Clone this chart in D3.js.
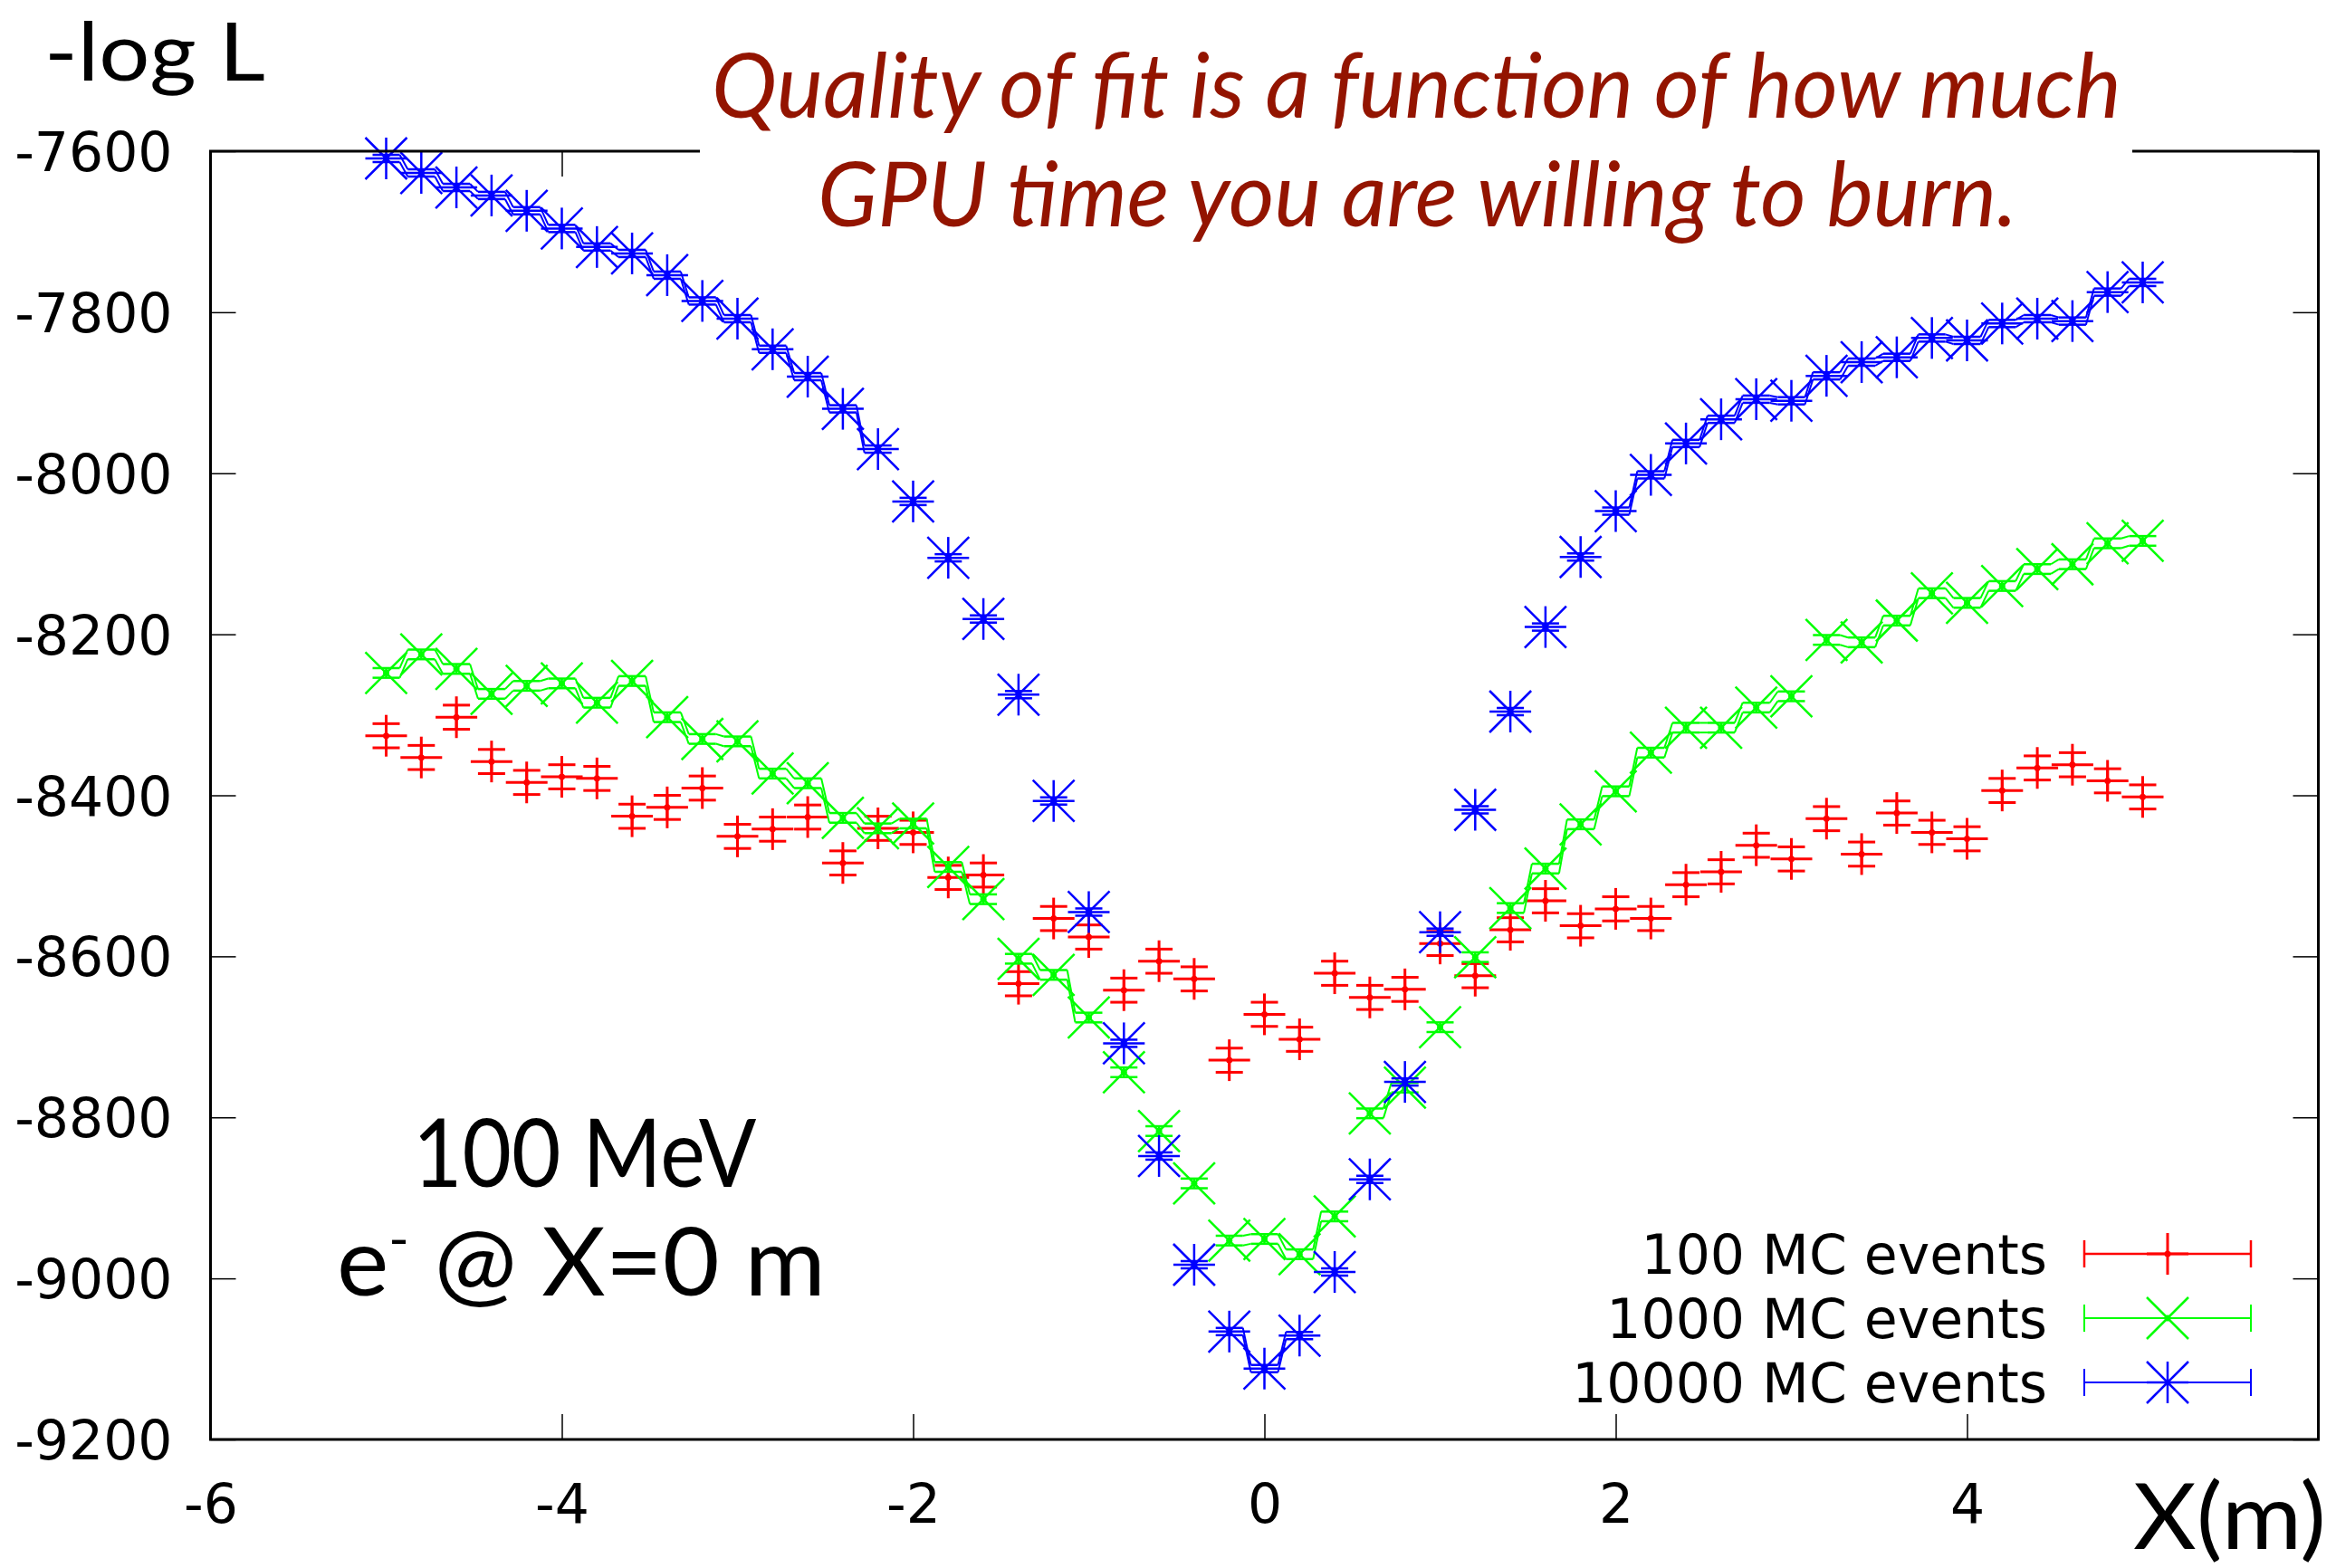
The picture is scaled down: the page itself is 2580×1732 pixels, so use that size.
<!DOCTYPE html>
<html>
<head>
<meta charset="utf-8">
<script src="https://cdn.jsdelivr.net/npm/d3@7"></script>
<style>
  body { margin: 0; background: #fff; }
  svg { display: block; }
  .axis text { font-family: "DejaVu Sans", sans-serif; font-size: 60px; fill: #000; }
  .axis line { stroke: #000; stroke-width: 1.5; }
  .legend text { font-family: "DejaVu Sans", sans-serif; font-size: 60px; fill: #000; }
  .label { font-family: Lato, "Open Sans", sans-serif; fill: #000; }
  .title { font-family: Lato, "Open Sans", sans-serif; font-style: italic; fill: #931400; }
</style>
</head>
<body>
<svg id="chart"></svg>
<script>
// scan positions (m)
const xValues = [
  -5.0, -4.8, -4.6, -4.4, -4.2, -4.0, -3.8, -3.6, -3.4, -3.2,
  -3.0, -2.8, -2.6, -2.4, -2.2, -2.0, -1.8, -1.6, -1.4, -1.2,
  -1.0, -0.8, -0.6, -0.4, -0.2, 0.0, 0.2, 0.4, 0.6, 0.8,
  1.0, 1.2, 1.4, 1.6, 1.8, 2.0, 2.2, 2.4, 2.6, 2.8,
  3.0, 3.2, 3.4, 3.6, 3.8, 4.0, 4.2, 4.4, 4.6, 4.8,
  5.0
];

// -log L for 100 MC events
const logL100 = [
  -8326, -8353, -8303, -8358, -8384, -8377, -8379, -8426, -8415, -8391,
  -8451, -8442, -8427, -8484, -8441, -8446, -8502, -8499, -8634, -8553,
  -8576, -8642, -8606, -8628, -8729, -8672, -8703, -8621, -8651, -8641,
  -8584, -8624, -8567, -8531, -8562, -8541, -8553, -8511, -8495, -8462,
  -8479, -8429, -8473, -8422, -8446, -8454, -8394, -8366, -8362, -8382,
  -8402
];

// -log L for 1000 MC events
const logL1000 = [
  -8248, -8225, -8243, -8274, -8264, -8261, -8285, -8258, -8303, -8330,
  -8333, -8373, -8385, -8428, -8441, -8435, -8489, -8529, -8603, -8623,
  -8676, -8744, -8817, -8882, -8953, -8951, -8970, -8923, -8795, -8763,
  -8688, -8601, -8540, -8491, -8436, -8395, -8347, -8316, -8316, -8291,
  -8277, -8207, -8210, -8183, -8149, -8161, -8140, -8119, -8113, -8087,
  -8084
];

// -log L for 10000 MC events
const logL10000 = [
  -7609, -7627, -7645, -7655, -7674, -7696, -7719, -7727, -7754, -7786,
  -7808, -7846, -7880, -7920, -7970, -8035, -8105, -8181, -8275, -8407,
  -8545, -8708, -8848, -8983, -9066, -9112, -9071, -8992, -8877, -8756,
  -8570, -8418, -8296, -8191, -8104, -8047, -8002, -7963, -7933, -7908,
  -7910, -7879, -7862, -7856, -7832, -7835, -7814, -7808, -7811, -7775,
  -7763
];

// statistical error on -log L per series
const seriesErrors = [15, 6, 4.5];
const seriesNames = ['100 MC events', '1000 MC events', '10000 MC events'];

const xTicks = [-6, -4, -2, 0, 2, 4];
const yTicks = [-7600, -7800, -8000, -8200, -8400, -8600, -8800, -9000, -9200];

const titleLines = ['Quality of fit is a function of how much', 'GPU time you are willing to burn.'];
const yLabel = '-log L';
const xLabel = 'X(m)';
const energyNote = '100 MeV';

class ScanPlot {

    constructor(_config, _data) {
        this.config = {
            parentElement: _config.parentElement,
            containerWidth: _config.containerWidth || 2580,
            containerHeight: _config.containerHeight || 1732,
            margin: _config.margin || {top: 167, right: 19.5, bottom: 142, left: 232.5},
            tickLength: 28,
            capHalf: 15,
            glyphHalf: 23,
            joinMaxStep: 50
        };
        this.data = _data;
        this.initVis();
    }

    initVis() {
        let vis = this;

        vis.width = vis.config.containerWidth - vis.config.margin.left - vis.config.margin.right;
        vis.height = vis.config.containerHeight - vis.config.margin.top - vis.config.margin.bottom;

        vis.xScale = d3.scaleLinear()
            .domain([-6, 6])
            .range([0, vis.width]);

        // y is -log L, top of the frame is the largest value
        vis.yScale = d3.scaleLinear()
            .domain([-7600, -9200])
            .range([0, vis.height]);

        vis.svg = d3.select(vis.config.parentElement)
            .attr('width', vis.config.containerWidth)
            .attr('height', vis.config.containerHeight);

        vis.svg.append('rect')
            .attr('width', vis.config.containerWidth)
            .attr('height', vis.config.containerHeight)
            .attr('fill', '#fff');

        vis.chart = vis.svg.append('g')
            .attr('transform', `translate(${vis.config.margin.left},${vis.config.margin.top})`);

        // ticks point inwards on all four sides, like gnuplot
        const tl = -vis.config.tickLength;
        vis.xAxis = d3.axisBottom(vis.xScale).tickValues(xTicks).tickSize(tl).tickPadding(49.5).tickFormat(d => String(d));
        vis.yAxis = d3.axisLeft(vis.yScale).tickValues(yTicks).tickSize(tl).tickPadding(42).tickFormat(d => String(d));
        vis.xAxisTop = d3.axisTop(vis.xScale).tickValues(xTicks).tickSize(tl).tickFormat('');
        vis.yAxisRight = d3.axisRight(vis.yScale).tickValues(yTicks).tickSize(tl).tickFormat('');

        vis.xAxisG = vis.chart.append('g').attr('class', 'axis x-axis')
            .attr('transform', `translate(0,${vis.height})`);
        vis.yAxisG = vis.chart.append('g').attr('class', 'axis y-axis');
        vis.xTopG = vis.chart.append('g').attr('class', 'axis');
        vis.yRightG = vis.chart.append('g').attr('class', 'axis')
            .attr('transform', `translate(${vis.width},0)`);

        vis.marks = vis.chart.append('g');
    }

    updateVis() {
        let vis = this;
        vis.renderVis();
    }

    glyph(g, shape) {
        const r = this.config.glyphHalf;
        if (shape === 'plus' || shape === 'star') {
            g.append('line').attr('x1', -r).attr('x2', r);
            g.append('line').attr('y1', -r).attr('y2', r);
        }
        if (shape === 'cross' || shape === 'star') {
            g.append('line').attr('x1', -r).attr('y1', -r).attr('x2', r).attr('y2', r);
            g.append('line').attr('x1', -r).attr('y1', r).attr('x2', r).attr('y2', -r);
        }
    }

    renderVis() {
        let vis = this;
        const cap = vis.config.capHalf;

        vis.xAxisG.call(vis.xAxis).call(g => g.select('.domain').remove());
        vis.yAxisG.call(vis.yAxis).call(g => g.select('.domain').remove());
        vis.xTopG.call(vis.xAxisTop).call(g => g.select('.domain').remove());
        vis.yRightG.call(vis.yAxisRight).call(g => g.select('.domain').remove());
        vis.yAxisG.selectAll('text').attr('dy', '0.36em');

        vis.data.forEach(s => {
            const pts = s.values.map((v, i) => ({x: xValues[i], v: v}));
            const sg = vis.marks.append('g')
                .attr('stroke', s.color)
                .attr('fill', 'none')
                .attr('stroke-width', s.lineWidth);

            // error lines joining the cap ends of neighbouring points;
            // steep jumps are left open as in the original plot
            if (s.joined) {
                const seg = d3.line();
                for (let i = 0; i < pts.length - 1; i++) {
                    const a = pts[i], b = pts[i + 1];
                    if (Math.abs(vis.yScale(b.v) - vis.yScale(a.v)) > vis.config.joinMaxStep) continue;
                    [1, -1].forEach(sign => {
                        sg.append('path').attr('d', seg([
                            [vis.xScale(a.x) + cap, vis.yScale(a.v + sign * s.err)],
                            [vis.xScale(b.x) - cap, vis.yScale(b.v + sign * s.err)]
                        ]));
                    });
                }
            }

            sg.selectAll('.pt')
                .data(pts)
                .join('g')
                .attr('class', 'pt')
                .attr('stroke-width', s.markWidth)
                .attr('transform', d => `translate(${vis.xScale(d.x)},${vis.yScale(d.v)})`)
                .each(function(d) {
                    const g = d3.select(this);
                    const dy = vis.yScale(d.v - s.err) - vis.yScale(d.v);
                    g.append('line').attr('y1', -dy).attr('y2', dy);
                    g.append('line').attr('x1', -cap).attr('x2', cap).attr('y1', -dy).attr('y2', -dy);
                    g.append('line').attr('x1', -cap).attr('x2', cap).attr('y1', dy).attr('y2', dy);
                    vis.glyph(g, s.shape);
                    g.append('circle').attr('r', 3.5).attr('fill', s.color).attr('stroke', 'none');
                });
        });

        // frame
        vis.chart.append('rect')
            .attr('width', vis.width)
            .attr('height', vis.height)
            .attr('fill', 'none')
            .attr('stroke', '#000')
            .attr('stroke-width', 3);

        // legend, bottom right inside the frame
        const legend = vis.svg.append('g').attr('class', 'legend');
        vis.data.forEach((s, i) => {
            const row = legend.append('g').attr('transform', `translate(0,${1385 + i * 71})`);
            row.append('text')
                .attr('x', 2261)
                .attr('dy', '0.36em')
                .attr('text-anchor', 'end')
                .text(s.name);
            const sample = row.append('g')
                .attr('stroke', s.color)
                .attr('stroke-width', s.lineWidth)
                .attr('fill', 'none');
            sample.append('line').attr('x1', 2302).attr('x2', 2486);
            sample.append('line').attr('x1', 2302).attr('x2', 2302).attr('y1', -cap).attr('y2', cap);
            sample.append('line').attr('x1', 2486).attr('x2', 2486).attr('y1', -cap).attr('y2', cap);
            const mk = sample.append('g').attr('transform', 'translate(2394,0)').attr('stroke-width', s.markWidth);
            vis.glyph(mk, s.shape);
            mk.append('circle').attr('r', 3.5).attr('fill', s.color).attr('stroke', 'none');
        });

        // white box of the slide title sits over the top of the frame
        vis.svg.append('rect')
            .attr('x', 773).attr('y', 0)
            .attr('width', 1582).attr('height', 285)
            .attr('fill', '#fff');

        const fit = (sel, x0, x1) => {
            const b = sel.node().getBBox();
            const s = (x1 - x0) / b.width;
            sel.attr('transform', `translate(${x0},0) scale(${s},1) translate(${-b.x},0)`);
        };

        fit(vis.svg.append('text').attr('class', 'title').attr('y', 130).attr('font-size', 100).text(titleLines[0]), 786, 2343);
        fit(vis.svg.append('text').attr('class', 'title').attr('y', 250).attr('font-size', 100).text(titleLines[1]), 903, 2228);

        fit(vis.svg.append('text').attr('class', 'label').attr('y', 89).attr('font-size', 90).text(yLabel), 49, 293);
        fit(vis.svg.append('text').attr('class', 'label').attr('y', 1711).attr('font-size', 100).text(xLabel), 2356, 2569);
        fit(vis.svg.append('text').attr('class', 'label').attr('y', 1311).attr('font-size', 104).text(energyNote), 456, 836);

        const beam = vis.svg.append('text').attr('class', 'label').attr('y', 1431).attr('font-size', 104);
        beam.append('tspan').text('e');
        beam.append('tspan').attr('font-size', 58).attr('dy', -42).text('-');
        beam.append('tspan').attr('dy', 42).text(' @ X=0 m');
        fit(beam, 372, 912);
    }
}

const series = [
    {name: seriesNames[0], values: logL100, err: seriesErrors[0], color: '#ff0000', shape: 'plus', joined: false, lineWidth: 2.5, markWidth: 3},
    {name: seriesNames[1], values: logL1000, err: seriesErrors[1], color: '#00ff00', shape: 'cross', joined: true, lineWidth: 2, markWidth: 2.5},
    {name: seriesNames[2], values: logL10000, err: seriesErrors[2], color: '#0000ff', shape: 'star', joined: true, lineWidth: 2, markWidth: 2.5}
];

const plot = new ScanPlot({parentElement: '#chart'}, series);
plot.updateVis();
</script>
</body>
</html>
